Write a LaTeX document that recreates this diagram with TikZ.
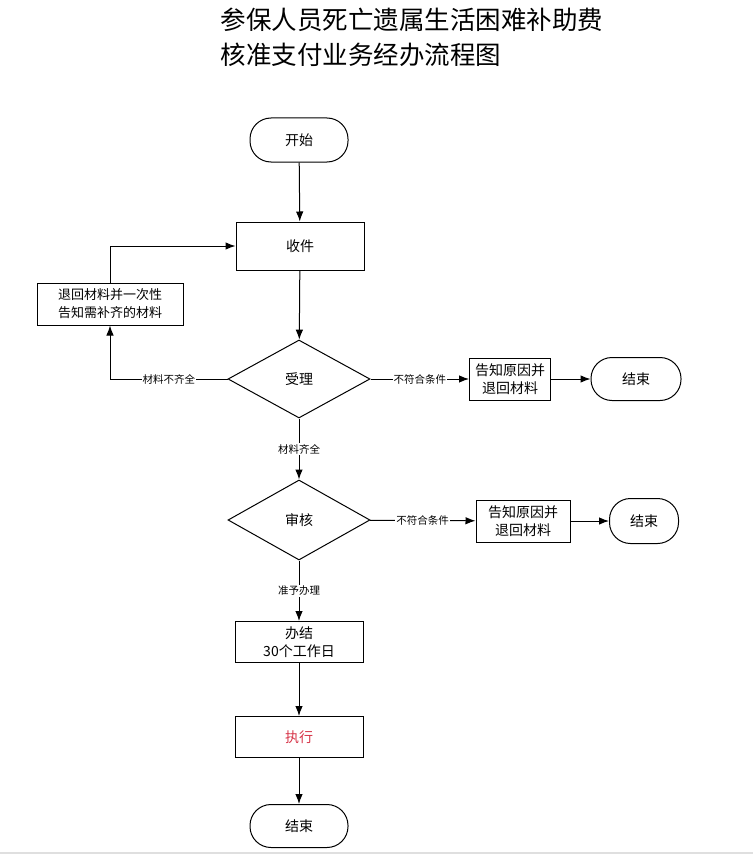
\documentclass[tikz,border=0pt]{standalone}
\usepackage{fontspec}
\newfontfamily\cjk{Noto Sans CJK SC}
\usetikzlibrary{shapes.geometric, arrows.meta, positioning}
\definecolor{execred}{RGB}{214,52,72}

\begin{document}
\begin{tikzpicture}[->,>={Latex[length=10pt,width=7.5pt]},x=1pt,y=-1pt,line width=1pt,
                    every node/.style={font=\cjk\fontsize{14}{18}\selectfont}]
  \tikzstyle{stadium}=[draw, rounded corners=21pt, minimum width=98pt, minimum height=44pt]
  \tikzstyle{process}=[draw, minimum width=128pt, minimum height=44pt, align=center]
  \tikzstyle{decision}=[draw, diamond, minimum width=142pt, minimum height=78pt]
  \tikzstyle{backbox}=[draw, align=center, minimum height=42pt, inner sep=2pt]
  \tikzstyle{tag}=[fill=white, inner sep=1pt, font=\cjk\fontsize{10.5}{12}\selectfont]

  \useasboundingbox (0,0) rectangle (753,856);

  % title
  \node[anchor=west, font=\cjk\fontsize{25.5}{30}\selectfont] (title1) at (217,20) {参保人员死亡遗属生活困难补助费};
  \node[anchor=west, font=\cjk\fontsize{25.5}{30}\selectfont] (title2) at (217,55) {核准支付业务经办流程图};

  \node[stadium]  (start)  at (299,140) {开始};
  \node[process, minimum height=48pt] (recv) at (300,246) {收件};
  \node[backbox, minimum width=146pt, font=\cjk\fontsize{13}{18}\selectfont]
                  (notice) at (110,304) {退回材料并一次性\\告知需补齐的材料};
  \node[decision] (accept) at (299,379) {受理};
  \node[backbox, minimum width=81pt]  (back1) at (510,379) {告知原因并\\退回材料};
  \node[stadium, minimum width=90pt, minimum height=43pt] (end1) at (636,379) {结束};
  \node[decision, minimum height=80pt] (review) at (299,520) {审核};
  \node[backbox, minimum width=94pt]  (back2) at (523,521) {告知原因并\\退回材料};
  \node[stadium, minimum width=69pt, minimum height=45pt] (end2) at (644,521) {结束};
  \node[process, minimum height=41pt] (finish) at (299,642) {办结\\30个工作日};
  \node[process, minimum height=41pt, text=execred] (exec) at (299,737) {执行};
  \node[stadium, minimum height=43pt] (end3) at (299,826) {结束};

  \path (start)  edge (recv)
        (recv)   edge (accept)
        (accept) edge node[tag] {不符合条件} (back1)
                 edge node[tag] {材料齐全} (review)
        (back1)  edge (end1)
        (review) edge node[tag] {不符合条件} (back2)
                 edge node[tag] {准予办理} (finish)
        (back2)  edge (end2)
        (finish) edge (exec)
        (exec)   edge (end3);

  % material missing loop
  \draw (accept.west) -| node[tag, pos=0.25] {材料不齐全} (notice.south);
  \draw (notice.north) |- (recv.west);

  \draw[-, gray!25, line width=2pt] (0,853) -- (753,853);
\end{tikzpicture}
\end{document}
